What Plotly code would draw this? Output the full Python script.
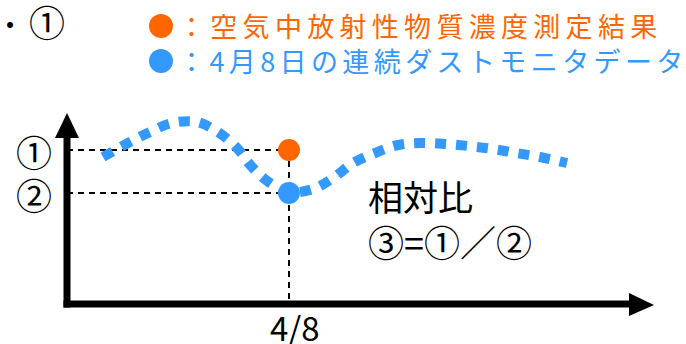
"""
Schematic: relative ratio of air concentration vs. continuous dust monitor on 4/8.
"""

import plotly.graph_objects as go

FONT = "Noto Sans CJK JP"
ORANGE = "#FF6600"
BLUE = "#3399FF"

# continuous dust monitor trace (schematic, pixel-like units, y grows downward)
monitor_x = [103, 128, 150, 172, 197, 218, 237, 252, 270, 289, 313, 333,
             353, 375, 398, 421, 445, 468, 493, 516, 540, 567]
monitor_y = [157, 143, 132, 123, 122, 132, 148, 167, 183, 192, 189, 178,
             163, 153, 145, 143, 144, 146, 149, 153, 157, 163]

# point of interest: 4/8
date_x = [289]
level_1 = [150]   # air concentration measurement
level_2 = [193]   # dust monitor value
date_label = "4/8"

# axis frame
origin = (67, 304)
y_top = 113
x_end = 654

legend_items = ["：空気中放射性物質濃度測定結果", "：4月8日の連続ダストモニタデータ"]
legend_colors = [ORANGE, BLUE]
legend_y = [26, 61]
legend_spacing = [5.3, 4.4]

fig = go.Figure()

# guide lines
guide = dict(color="black", width=2, dash="6px,5px")
fig.add_trace(go.Scatter(
    x=[origin[0], date_x[0]], y=[level_1[0], level_1[0]], mode="lines",
    line=guide, hoverinfo="skip"
))
fig.add_trace(go.Scatter(
    x=[origin[0], date_x[0]], y=[level_2[0], level_2[0]], mode="lines",
    line=guide, hoverinfo="skip"
))
fig.add_trace(go.Scatter(
    x=[date_x[0], date_x[0]], y=[level_1[0], origin[1]], mode="lines",
    line=guide, hoverinfo="skip"
))

# monitor curve
fig.add_trace(go.Scatter(
    x=monitor_x, y=monitor_y, mode="lines",
    line=dict(color=BLUE, width=10, shape="spline", smoothing=1.0, dash="11px,10px"),
    hoverinfo="skip"
))

# points
fig.add_trace(go.Scatter(
    x=date_x, y=level_1, mode="markers",
    marker=dict(color=ORANGE, size=22), hoverinfo="skip"
))
fig.add_trace(go.Scatter(
    x=date_x, y=level_2, mode="markers",
    marker=dict(color=BLUE, size=22), hoverinfo="skip"
))

# legend dots
fig.add_trace(go.Scatter(
    x=[161, 161], y=legend_y, mode="markers",
    marker=dict(color=legend_colors, size=24), hoverinfo="skip"
))

# axes with arrowheads
ox, oy = origin
fig.add_shape(type="line", x0=ox, y0=oy + 3.5, x1=ox, y1=y_top + 20,
              line=dict(color="black", width=7))
fig.add_shape(type="path", path=f"M {ox} {y_top} L {ox - 12} {y_top + 25} L {ox + 12} {y_top + 25} Z",
              fillcolor="black", line=dict(width=0))
fig.add_shape(type="line", x0=ox - 3.5, y0=oy, x1=x_end - 20, y1=oy,
              line=dict(color="black", width=7))
fig.add_shape(type="path", path=f"M {x_end} {oy + 1} L {x_end - 25} {oy - 11} L {x_end - 25} {oy + 12} Z",
              fillcolor="black", line=dict(width=0))

# texts
black = dict(family=FONT, color="black")
fig.add_annotation(x=10, y=24, text="・", showarrow=False, height=30,
                   font=dict(black, size=28))
fig.add_annotation(x=47, y=21, text="①", showarrow=False, height=40,
                   font=dict(black, size=36))
for txt, col, yy, sp in zip(legend_items, legend_colors, legend_y, legend_spacing):
    fig.add_annotation(x=176, y=yy - 1, showarrow=False, xanchor="left", height=33,
                       text=f'<span style="letter-spacing:{sp}px">{txt}</span>',
                       font=dict(family=FONT, size=27, color=col))

fig.add_annotation(x=34, y=level_1[0] + 1, text="①", showarrow=False, height=40,
                   font=dict(black, size=36))
fig.add_annotation(x=34, y=level_2[0] + 1, text="②", showarrow=False, height=40,
                   font=dict(black, size=36))
fig.add_annotation(x=295, y=327, text=date_label, showarrow=False, height=34,
                   font=dict(black, size=33))
fig.add_annotation(x=366, y=195, text="相対比", showarrow=False, xanchor="left",
                   height=42, font=dict(black, size=35))
fig.add_annotation(x=366, y=241, text="③=①／②", showarrow=False, xanchor="left",
                   height=42, font=dict(black, size=36))

fig.update_xaxes(range=[0, 686], visible=False, fixedrange=True)
fig.update_yaxes(range=[344, 0], visible=False, fixedrange=True)
fig.update_layout(
    width=686, height=344,
    margin=dict(l=0, r=0, t=0, b=0),
    paper_bgcolor="white", plot_bgcolor="white",
    showlegend=False,
)

fig.write_html("out.html", config={"displayModeBar": False},
               post_script="document.body.style.margin = '0';")
